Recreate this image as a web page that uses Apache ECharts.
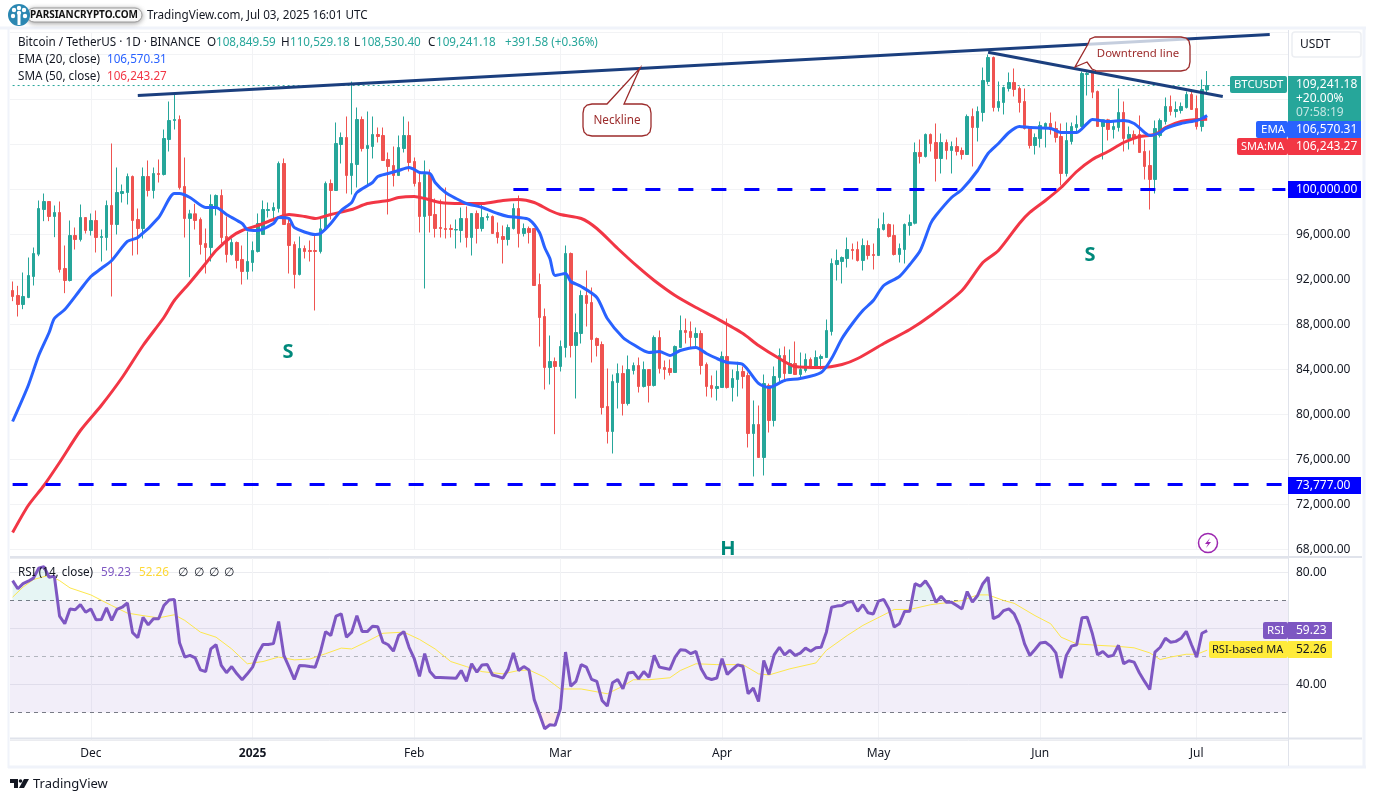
<!DOCTYPE html>
<html>
<head>
<meta charset="utf-8">
<title>BTCUSDT</title>
<script src="https://cdn.jsdelivr.net/npm/echarts@6/dist/echarts.min.js"></script>
<style>
  html, body { margin: 0; padding: 0; background: #fff; }
  #chart { width: 1375px; height: 801px; }
</style>
</head>
<body>
<div id="chart"></div>
<script>
// daily candles, index 0 = 2024-11-16
var openValues = [
  91022,90578,89777,90400,92267,94251,98222,98933,97600,97955,
  92978,91911,95911,95556,97511,96355,97244,95733,95733,98578,
  96889,99644,99733,101155,97333,96533,101155,99911,101422,101333,
  104444,106133,106222,100267,97422,97837,97333,95200,94844,98489,
  99467,95822,94222,95289,93778,92711,93511,94489,96000,98133,
  98133,98311,102311,96978,95111,92444,94756,94578,94578,94489,
  96444,100533,99911,104000,104622,101245,102222,106222,103644,103822,
  104889,104800,102667,102133,101244,103644,104800,102489,100622,97600,
  101333,97778,96622,96533,96533,96400,96356,97422,95733,97867,
  96533,97511,97600,96178,95822,95555,96533,98311,96089,96533,
  96533,91555,88711,84178,84711,84267,85956,94311,86133,87200,
  90578,89956,86755,86222,80711,78489,82844,83644,80978,83911,
  84355,82489,84000,82578,86844,84178,84089,83733,85956,87467,
  87378,86844,87200,84444,82578,82311,82400,85156,82400,83111,
  83822,83467,78311,79111,76178,82578,79467,83289,85244,83644,
  84533,83555,83911,84889,84267,84978,85067,87378,93333,93600,
  93867,94667,94667,93689,95022,94222,94133,96444,96889,95911,
  94222,94667,96800,97000,103289,102933,104889,104178,102755,104178,
  103467,103822,103467,103111,106489,105511,106844,109600,111733,107289,
  107733,108978,109511,108978,107822,105600,103911,104533,105570,105867,
  105422,104711,101422,104267,105511,105600,110222,110578,108711,105600,
  106193,105333,105511,106844,104533,104889,104889,103378,102133,100889,
  104800,106045,107378,106933,107022,107289,108445,107200,105600,108849.59
];
var closeValues = [
  90488,89777,90489,92355,94311,98311,98933,97600,97955,92889,
  91911,95911,95556,97511,96355,97244,95733,95822,98578,96889,
  99733,99822,101155,97244,96533,101155,99911,101422,101333,104533,
  106133,106222,100178,97422,97837,97244,95111,94844,98667,99467,
  95733,94222,95289,93689,92711,93600,94578,96978,98222,98222,
  98400,102311,96889,95022,92444,94756,94489,94489,94489,96504,
  100533,99911,104089,104622,101245,102311,106222,103644,103911,104889,
  104711,102578,102044,101244,103733,104800,102400,100533,97600,101333,
  97689,96533,96533,96444,96444,96444,97422,95733,97867,96533,
  97511,97600,96089,95733,95555,96622,98311,96089,96533,96178,
  91466,88622,84178,84711,84267,86044,94311,86133,87289,90578,
  89867,86667,86133,80622,78489,82933,83644,80978,84000,84355,
  82489,84000,82578,86844,84089,84000,83733,86044,87467,87289,
  86844,87200,84355,82489,82311,82489,85156,82400,83200,83822,
  83378,78311,79111,76178,82755,79467,83378,85244,83644,84533,
  83555,84000,84889,84178,85067,85155,87467,93422,93689,93955,
  94667,94578,93689,95022,94133,94133,96533,96889,95822,94222,
  94755,96889,97067,103289,102933,104889,104089,102755,104178,103467,
  103822,103378,103111,106489,105511,106933,109689,111733,107289,107822,
  109067,109511,108889,107733,105422,103911,104622,105689,105867,105333,
  104622,101422,104355,105600,105778,110311,110311,108652,105600,106193,
  105333,105600,106844,104533,104889,104533,103289,102045,100889,105422,
  106133,107378,106933,107111,107378,108445,107111,105600,108889,109241.18
];
var lowValues = [
  90074,88711,89363,90340,91466,94074,97185,97185,95763,92622,
  90785,91822,94666,95378,96089,95911,94400,93600,94578,90489,
  96000,98844,98666,94133,94222,95644,99378,99200,100622,101244,
  103378,105333,100000,95733,92207,96444,94222,92533,93600,97689,
  95200,93511,94133,92978,91555,92000,92711,94400,96000,97511,
  97333,97956,96889,92533,91200,92356,93867,93600,89245,94311,
  96356,97333,99911,102311,99645,99556,100178,103378,100267,102755,
  104178,102578,97778,100267,101244,103289,101600,100267,96178,91200,
  96178,95733,95733,95644,95733,94756,95289,94844,94133,95200,
  96267,97245,96089,95200,93422,95022,96444,94844,95822,95200,
  91466,86044,82222,82667,78252,83822,85067,85067,81422,86311,
  87822,84622,85156,80000,77422,76533,80533,79911,80800,83556,
  81955,82400,81067,82489,83644,83111,83467,83733,85956,86311,
  85956,85956,83556,81600,81511,81244,82400,82311,81155,81600,
  82311,77067,74489,76178,74578,78400,78933,82844,83022,83644,
  83555,83111,83733,84089,84267,84000,85067,87022,91911,91644,
  93067,93778,93600,92800,93778,92889,94133,96355,95733,94133,
  93511,93422,95911,96900,102311,102844,103378,100711,101422,102667,
  101422,103022,102667,103111,102044,104267,106044,109333,106933,106933,
  106667,108711,108267,106844,105333,103644,103111,103733,103733,104889,
  104178,100355,101155,104000,105067,105511,108355,108118,105600,102667,
  104356,104533,105155,103378,103556,104000,103289,100889,98222,99645,
  104622,105778,106578,106400,106755,107200,107111,105333,105155,108530.40
];
var highValues = [
  91822,91437,92622,93955,94844,99022,99644,98933,98578,98933,
  95022,97244,96622,98666,97511,97867,98133,96444,99022,104089,
  101956,100444,101422,101244,98311,101956,102578,101956,102667,105333,
  107822,108504,106578,102844,98193,98726,97511,96533,99556,99556,
  100000,97600,95644,95378,95022,96267,95378,97867,99022,98844,
  98844,102489,102756,97511,95378,95822,95022,95467,96059,97393,
  100711,100889,105956,105067,106489,109590,107289,106489,106933,106489,
  105511,105511,103289,103822,104800,106489,106044,102844,101600,102578,
  101778,99200,99111,100178,96889,97333,98400,98489,97867,98133,
  98844,97867,97689,97067,96800,96889,98755,99467,96978,96711,
  96533,92533,89422,87022,85067,86578,95022,94400,88978,91022,
  92800,91289,86844,86489,84089,83555,84533,84356,85244,84622,
  85067,84711,84000,87022,87467,84800,84889,86133,88800,88533,
  88267,87733,87467,84622,83467,83911,85600,88533,84000,84682,
  84267,83733,81245,80800,83555,82755,84267,85867,86044,85778,
  86489,85511,85422,85067,85689,85333,88444,93867,94667,94044,
  95733,95200,95378,95644,95467,95200,97422,97956,96978,96889,
  95200,96978,97778,104178,104444,104978,104978,105867,104978,104444,
  104267,104622,103733,106667,107200,107378,110844,112000,111822,109600,
  109155,110400,110755,109155,108978,105600,104978,106044,105955,106844,
  106044,105867,105955,105955,106578,110489,110430,110578,108800,106193,
  106281,106045,108978,107822,105600,105245,106578,104444,103467,106133,
  106311,108178,108356,107822,107733,108711,108889,108356,109778,110529.18
];

// ema / sma read at knots: day index and price
var emaDays = [0,3,5,7,8,10,13,15,17,19,22,24,28,31,32,34,37,39,41,44,45,47,50,51,53,54,58,59,61,63,65,66,69,70,72,74,76,77,78,80,81,83,85,87,90,93,95,97,99,101,102,103,104,106,107,109,112,114,117,119,122,124,126,128,131,133,135,137,140,143,145,148,151,155,157,159,161,163,165,167,170,172,174,176,177,180,182,185,187,189,191,193,195,199,201,204,206,207,210,213,215,217,218,220,221,224,227,228,229];
var emaValues = [79378,82578,85244,87289,88533,89333,91111,92267,92978,93689,95378,95733,97511,99644,99644,99289,98400,98400,97778,96978,96444,96356,96978,97511,97422,96622,96000,96089,96978,98133,98844,99733,100622,101156,101422,101689,101956,101778,101511,101422,100622,99733,99200,98756,98400,97867,97600,97511,97333,96178,94844,93867,92356,92533,91822,91378,90400,88533,86844,86222,85511,85600,85244,85689,85956,85422,84978,84622,84444,82756,82400,83022,83200,83733,84978,86756,88089,89244,90133,91467,92267,93333,94578,96978,97689,99289,100000,101689,103200,104089,105067,105600,105511,105422,105067,105067,105867,106222,106044,106133,105867,105067,104800,105067,105422,105867,106133,106311,106570.31];
var smaDays = [0,3,6,9,13,17,21,25,29,31,34,37,39,42,44,47,50,53,56,58,61,65,68,72,74,77,79,82,86,90,94,97,100,103,105,109,112,116,120,123,127,131,135,140,143,147,150,155,159,162,167,172,176,182,186,189,193,195,198,201,204,207,210,213,216,219,221,224,227,229];
var smaValues = [69511,71911,73689,75733,78578,80800,83289,86133,88622,90133,91733,93422,94578,95822,96356,96800,97333,97778,97600,97422,97778,98222,98756,99022,99289,99378,99200,98844,98756,98756,99022,99111,98844,98133,97778,97422,96533,94756,93067,91911,90578,89511,88533,87200,86133,84978,84267,84178,84444,84978,86311,87556,88800,91022,93511,94578,96978,97956,99022,100178,101600,102667,103378,104178,104711,104889,105511,106044,106222,106243.27];

var rsiValues = [
  77.1,74.2,76.0,76.9,78.0,81.5,82.1,78.3,78.7,64.4,61.7,67.0,66.7,68.5,65.8,67.0,63.1,63.2,67.4,62.9,
  66.8,67.6,69.1,58.5,56.7,64.0,61.3,63.5,63.5,68.2,70.2,70.4,54.9,49.8,50.4,49.5,45.2,44.6,52.7,54.2,
  46.8,44.2,46.4,43.8,41.7,43.8,46.2,51.0,54.3,54.3,54.6,62.5,50.4,46.2,41.8,46.8,46.7,46.4,46.2,51.6,
  58.9,57.5,64.4,65.2,56.9,58.7,64.6,58.9,58.9,60.8,60.6,55.1,54.2,51.9,57.5,58.9,53.3,49.2,42.9,51.0,
  44.6,42.5,42.5,42.4,42.3,42.2,45.0,41.1,47.4,44.4,47.0,47.1,43.4,42.9,42.3,45.4,51.3,45.0,46.4,45.2,
  34.6,29.5,24.2,25.6,25.4,31.3,51.6,39.4,41.1,47.1,46.2,41.8,41.1,34.3,32.3,40.6,41.8,38.5,44.1,44.4,
  42.0,44.6,42.6,50.4,46.2,45.8,45.4,49.8,52.4,52.2,51.0,51.8,45.6,42.4,41.8,42.3,49.2,43.6,45.4,47.0,
  46.5,36.7,38.7,33.9,48.6,43.6,50.6,53.3,50.6,52.2,50.4,51.2,53.0,51.9,53.1,53.3,58.7,67.6,68.0,68.2,
  69.4,69.6,66.1,68.5,65.6,65.2,69.8,70.4,67.0,60.5,61.7,66.1,66.2,76.0,75.1,77.0,74.2,69.4,71.5,69.4,
  69.4,68.2,67.0,73.2,69.4,71.8,76.0,78.3,63.5,64.4,66.4,67.0,65.2,61.1,54.5,50.4,52.5,54.8,55.1,53.7,
  51.3,42.3,50.4,53.7,54.2,63.8,64.0,58.1,50.6,51.8,50.0,50.4,54.0,47.4,48.5,48.0,44.2,41.1,38.2,51.6,
  53.3,56.5,55.1,55.4,56.5,59.0,54.2,49.8,58.3,59.23
];
var rsiMaDays = [0,2,4,7,9,11,15,19,22,25,28,31,33,36,39,42,45,48,51,54,57,60,63,65,68,71,75,78,81,84,87,90,94,97,99,102,105,109,114,117,119,122,126,128,131,135,140,143,145,149,154,156,160,163,168,169,172,176,179,182,185,187,190,192,196,199,201,204,208,212,215,218,220,222,225,227,229];
var rsiMaValues = [71.2,74.8,77.5,79.0,77.1,74.5,72.0,68.2,65.5,64.6,63.8,64.9,62.9,58.7,56.9,52.7,47.4,48.2,49.8,48.8,49.1,51.0,53.0,52.7,55.4,58.3,58.7,56.1,52.7,48.2,46.4,44.6,43.8,45.0,45.2,42.6,38.4,38.4,36.7,39.4,41.7,41.7,42.4,45.0,47.4,47.1,47.1,43.8,43.4,45.6,47.7,52.2,57.5,61.1,65.8,66.8,66.8,68.5,69.2,70.0,72.0,72.0,70.0,69.0,64.6,61.7,56.9,54.5,54.0,53.6,53.1,51.3,48.9,49.8,50.8,50.8,52.26];

// drawn trend lines, [day, price] ends
var necklineDays = [24, 241];
var necklinePrices = [108356, 113778];
var downtrendDays = [187, 232];
var downtrendPrices = [112204, 108267];

var supportPrices = [100000, 73777];
var lastPrice = 109241.18;

var monthStartDays = [15, 46, 77, 105, 136, 166, 197, 227];
var monthLabels = ['Dec', '2025', 'Feb', 'Mar', 'Apr', 'May', 'Jun', 'Jul'];

var dayCount = 245;
var categories = [];
for (var d = 0; d < dayCount; d++) {
  categories.push(new Date(Date.UTC(2024, 10, 16 + d)).toISOString().slice(0, 10));
}

var FONT = '"Noto Sans", sans-serif';
var UP = '#26a69a', DOWN = '#ef5350', GRID = '#f2f3f5', BORDER = '#e0e3eb', INK = '#131722';
var BLUE = '#2962ff', RED = '#f23645', PURPLE = '#7e57c2', YELLOW = '#ffeb3b', NAVY = '#1b3f7e', MAROON = '#9c2b2b';

function isMonthStart(i) { return monthStartDays.indexOf(i) >= 0; }
function money(v) { return v.toFixed(2).replace(/\B(?=(\d{3})+\.)/g, ','); }
function zip(a, b) { return a.map(function (v, i) { return [v, b[i]]; }); }

var g = [];
function txt(x, y, text, fill, size, extra) {
  var st = { x: 0, y: 0, text: text, fill: fill, font: (size || 12) + 'px ' + FONT,
    align: 'left', verticalAlign: 'middle', textAlign: 'left', textVerticalAlign: 'middle' };
  for (var k in (extra || {})) st[k] = extra[k];
  // noto sits a little high, nudge it down
  g.push({ type: 'text', x: x, y: y + 1, z: 60, silent: true, style: st });
}
function box(x0, y0, x1, y1, fill, r) {
  g.push({ type: 'rect', z: 55, silent: true, shape: { x: x0, y: y0, width: x1 - x0, height: y1 - y0, r: r || 0 }, style: { fill: fill } });
}
function rule(x0, y0, x1, y1, color, w) {
  g.push({ type: 'line', z: 40, silent: true, shape: { x1: x0, y1: y0, x2: x1, y2: y1 }, style: { stroke: color, lineWidth: w || 1 } });
}
function ctext(x, y, text, fill, size, extra) {
  var e = { align: 'center', textAlign: 'center' };
  for (var k in (extra || {})) e[k] = extra[k];
  txt(x, y, text, fill, size, e);
}

// frame
rule(0, 28, 1366, 28, '#f0f3fa', 3);
rule(8.5, 28, 8.5, 768, '#f0f3fa', 2);
rule(1364, 28, 1364, 768, '#f0f3fa', 3);
rule(8, 767, 1366, 767, '#f0f3fa', 3);
rule(1288.5, 30, 1288.5, 766, BORDER, 1);
rule(10, 557, 1362, 557, BORDER, 2);
rule(10, 738.5, 1362, 738.5, BORDER, 2);

// logo and title
g.push({ type: 'rect', z: 50, silent: true, shape: { x: 27, y: 8, width: 115, height: 14, r: 7 },
  style: { fill: '#fff', stroke: '#9a9a9a', lineWidth: 1, shadowBlur: 5, shadowColor: 'rgba(0,0,0,.35)', shadowOffsetY: 1 } });
g.push({ type: 'circle', z: 56, silent: true, shape: { cx: 19, cy: 15, r: 11 }, style: { fill: '#2a87b2' } });
g.push({ type: 'rect', z: 57, silent: true, shape: { x: 17.5, y: 15, width: 3, height: 10 }, style: { fill: '#fff' } });
[[14, 10], [19, 8], [24, 10], [13, 16], [25, 16], [19, 13]].forEach(function (p) {
  g.push({ type: 'circle', z: 57, silent: true, shape: { cx: p[0], cy: p[1], r: 2.2 }, style: { fill: '#fff' } });
});
txt(30, 14.5, 'PARSIANCRYPTO.COM', '#111', 10, { font: 'bold 10px ' + FONT });
txt(147, 14.5, 'TradingView.com, Jul 03, 2025 16:01 UTC', INK, 11.7);

// legend rows
txt(18, 41.5, 'Bitcoin / TetherUS · 1D · BINANCE', INK, 11.7);
txt(207, 41.5, 'O', INK, 11.7);
txt(216, 41.5, '108,849.59', UP, 11.7);
txt(281, 41.5, 'H', INK, 11.7);
txt(290, 41.5, '110,529.18', UP, 11.7);
txt(354, 41.5, 'L', INK, 11.7);
txt(361, 41.5, '108,530.40', UP, 11.7);
txt(428, 41.5, 'C', INK, 11.7);
txt(436, 41.5, '109,241.18', UP, 11.7);
txt(505, 41.5, '+391.58 (+0.36%)', UP, 11.7);
txt(18, 58.5, 'EMA (20, close)', INK, 11.7);
txt(107, 58.5, '106,570.31', BLUE, 11.7);
txt(18, 75.5, 'SMA (50, close)', INK, 11.7);
txt(107, 75.5, '106,243.27', RED, 11.7);
txt(18, 571.5, 'RSI (14, close)', INK, 11.7);
txt(101, 571.5, '59.23', PURPLE, 11.7);
txt(139, 571.5, '52.26', '#fdd835', 11.7);
txt(178, 571.5, '∅', INK, 11.7);
txt(194, 571.5, '∅', INK, 11.7);
txt(209, 571.5, '∅', INK, 11.7);
txt(224, 571.5, '∅', INK, 11.7);

// right hand tags
g.push({ type: 'rect', z: 50, silent: true, shape: { x: 1292, y: 32, width: 69, height: 25, r: 3 }, style: { fill: '#fff', stroke: '#eceef2', lineWidth: 1.5 } });
txt(1300, 44, 'USDT', INK, 12);
box(1230, 76, 1287, 93, UP, 2);
txt(1234, 84, 'BTCUSDT', '#fff', 11.3);
box(1288, 76, 1361, 121, UP);
txt(1296, 84, '109,241.18', '#fff', 12);
txt(1296, 97.5, '+20.00%', '#fff', 12);
txt(1296, 111.5, '07:58:19', 'rgba(255,255,255,.72)', 12);
box(1256, 121, 1288, 138, BLUE, 2);
box(1288, 121, 1361, 138, BLUE);
txt(1261, 129, 'EMA', '#fff', 11.5);
txt(1296, 129, '106,570.31', '#fff', 12);
box(1237, 138, 1288, 155, RED, 2);
box(1288, 138, 1361, 155, RED);
txt(1241, 146, 'SMA:MA', '#fff', 11);
txt(1296, 146, '106,243.27', '#fff', 12);
box(1288, 181, 1361, 198, '#0000ff');
txt(1296, 189, '100,000.00', '#fff', 12);
box(1288, 477, 1361, 494, '#0000ff');
txt(1296, 485, '73,777.00', '#fff', 12);
box(1263, 622, 1288, 639, PURPLE, 2);
box(1288, 622, 1332, 639, PURPLE);
txt(1267, 630, 'RSI', '#fff', 11.5);
txt(1296, 630, '59.23', '#fff', 12);
box(1209, 641, 1288, 658, YELLOW, 2);
box(1288, 641, 1332, 658, YELLOW);
txt(1212, 649, 'RSI-based MA', INK, 11);
txt(1296, 649, '52.26', INK, 12);

// head and shoulders letters
ctext(288, 351, 'S', '#00897b', 20, { font: 'bold 20px ' + FONT });
ctext(1090, 254, 'S', '#00897b', 20, { font: 'bold 20px ' + FONT });
ctext(728, 548, 'H', '#00897b', 20, { font: 'bold 20px ' + FONT });

// callouts
g.push({ type: 'polygon', z: 52, silent: true, shape: { points: [[592, 104], [607, 104], [640, 68], [624, 104], [642, 104], [647, 105], [650, 108], [651, 113], [651, 127], [650, 132], [647, 135], [642, 136], [592, 136], [587, 135], [584, 132], [583, 127], [583, 113], [584, 108], [587, 105]] },
  style: { fill: 'rgba(255,255,255,.75)', stroke: MAROON, lineWidth: 1.3 } });
ctext(617, 119.5, 'Neckline', MAROON, 11.7);
g.push({ type: 'polygon', z: 52, silent: true, shape: { points: [[1095, 37], [1181, 37], [1186, 38], [1189, 41], [1190, 46], [1190, 62], [1189, 67], [1186, 70], [1181, 71], [1097, 71], [1092, 69], [1087, 62], [1075, 67], [1088, 44], [1090, 39]] },
  style: { fill: 'rgba(255,255,255,.75)', stroke: MAROON, lineWidth: 1.3 } });
ctext(1138, 52.5, 'Downtrend line', MAROON, 11.4);

// alert icon
g.push({ type: 'circle', z: 55, silent: true, shape: { cx: 1208, cy: 543, r: 9.5 }, style: { fill: '#fff', stroke: '#9c27b0', lineWidth: 1.5 } });
g.push({ type: 'polygon', z: 56, silent: true, shape: { points: [[1210, 538], [1205, 544], [1208, 544], [1206, 548], [1211, 542], [1208, 542]] }, style: { fill: '#9c27b0' } });

// footer logo
g.push({ type: 'polygon', z: 55, silent: true, shape: { points: [[10, 779], [18, 779], [18, 788], [14, 788], [14, 783], [10, 783]] }, style: { fill: INK } });
g.push({ type: 'circle', z: 55, silent: true, shape: { cx: 20.5, cy: 781, r: 1.8 }, style: { fill: INK } });
g.push({ type: 'polygon', z: 55, silent: true, shape: { points: [[24, 779], [29, 779], [24, 788], [19, 788]] }, style: { fill: INK } });
txt(33, 783, 'TradingView', INK, 13);

var chart = echarts.init(document.getElementById('chart'));

function xAxisBase(extra) {
  var o = {
    type: 'category', data: categories, boundaryGap: true,
    axisLine: { show: false }, axisTick: { show: false },
    axisLabel: { show: false },
    splitLine: { show: true, alignWithLabel: true, interval: function (i) { return isMonthStart(i); }, lineStyle: { color: GRID, width: 1 } },
    axisPointer: { show: false }
  };
  for (var k in extra) o[k] = extra[k];
  return o;
}

chart.setOption({
  animation: false,
  backgroundColor: '#fff',
  textStyle: { fontFamily: FONT },
  grid: [
    { left: 10, right: 87, top: 32, height: 517.5 },
    { left: 10, right: 87, top: 558.5, height: 182 }
  ],
  xAxis: [
    xAxisBase({ gridIndex: 0 }),
    xAxisBase({
      gridIndex: 1,
      axisLabel: {
        show: true, margin: 7, color: INK, fontSize: 12, fontFamily: FONT,
        interval: function (i) { return isMonthStart(i); },
        formatter: function (val, i) {
          var label = monthLabels[monthStartDays.indexOf(i)];
          return label === '2025' ? '{b|2025}' : label;
        },
        rich: { b: { fontWeight: 'bold', fontSize: 12, fontFamily: FONT, color: INK } }
      }
    })
  ],
  yAxis: [
    {
      gridIndex: 0, type: 'value', position: 'right', scale: true,
      min: 68000, max: 114000, interval: 4000,
      axisLine: { show: false }, axisTick: { show: false },
      splitLine: { lineStyle: { color: GRID } },
      axisLabel: {
        margin: 8, color: INK, fontSize: 12, fontFamily: FONT, padding: [1, 0, 0, 0],
        formatter: function (val) { return val >= 100000 ? '' : money(val); }
      }
    },
    {
      gridIndex: 1, type: 'value', position: 'right',
      min: 20, max: 85, interval: 20,
      axisLine: { show: false }, axisTick: { show: false },
      splitLine: { lineStyle: { color: '#ebecf0' } },
      axisLabel: {
        margin: 8, color: INK, fontSize: 12, fontFamily: FONT, padding: [1, 0, 0, 0],
        formatter: function (val) { return val === 80 || val === 40 ? val.toFixed(2) : ''; }
      }
    }
  ],
  graphic: { elements: g },
  series: [
    {
      name: 'Last price', type: 'line', xAxisIndex: 0, yAxisIndex: 0, z: 2, showSymbol: false,
      data: [[0, lastPrice], [dayCount - 1, lastPrice]],
      lineStyle: { color: UP, width: 1, type: [2, 3] }
    },
    {
      name: 'BTCUSDT', type: 'candlestick', xAxisIndex: 0, yAxisIndex: 0, barWidth: 3, z: 3,
      data: openValues.map(function (o, i) { return [o, closeValues[i], lowValues[i], highValues[i]]; }),
      itemStyle: { color: UP, color0: DOWN, borderColor: UP, borderColor0: DOWN, borderWidth: 1 }
    },
    {
      name: 'SMA', type: 'line', xAxisIndex: 0, yAxisIndex: 0, z: 4, showSymbol: false, smooth: 0.25,
      data: zip(smaDays, smaValues), lineStyle: { color: RED, width: 3 }
    },
    {
      name: 'EMA', type: 'line', xAxisIndex: 0, yAxisIndex: 0, z: 5, showSymbol: false, smooth: 0.25,
      data: zip(emaDays, emaValues), lineStyle: { color: BLUE, width: 3 }
    },
    {
      name: 'Neckline', type: 'line', xAxisIndex: 0, yAxisIndex: 0, z: 6, showSymbol: false,
      data: zip(necklineDays, necklinePrices), lineStyle: { color: NAVY, width: 3 }
    },
    {
      name: 'Downtrend', type: 'line', xAxisIndex: 0, yAxisIndex: 0, z: 6, showSymbol: false,
      data: zip(downtrendDays, downtrendPrices), lineStyle: { color: NAVY, width: 3 }
    },
    {
      name: 'Support 100k', type: 'line', xAxisIndex: 0, yAxisIndex: 0, z: 6, showSymbol: false,
      data: [[96, supportPrices[0]], [dayCount - 1, supportPrices[0]]],
      lineStyle: { color: '#0000ff', width: 3, type: [15, 18] }
    },
    {
      name: 'Support 73k', type: 'line', xAxisIndex: 0, yAxisIndex: 0, z: 6, showSymbol: false,
      data: [[0, supportPrices[1]], [dayCount - 1, supportPrices[1]]],
      lineStyle: { color: '#0000ff', width: 3, type: [15, 18] }
    },
    {
      name: 'Overbought', type: 'line', xAxisIndex: 1, yAxisIndex: 1, z: 2, showSymbol: false,
      data: rsiValues.map(function (r) { return Math.max(r, 70); }),
      lineStyle: { width: 0 }, areaStyle: { origin: 70, color: 'rgba(38,166,154,.16)' }
    },
    {
      name: 'Oversold', type: 'line', xAxisIndex: 1, yAxisIndex: 1, z: 2, showSymbol: false,
      data: rsiValues.map(function (r) { return Math.min(r, 30); }),
      lineStyle: { width: 0 }, areaStyle: { origin: 30, color: 'rgba(239,83,80,.16)' }
    },
    {
      name: 'RSI-based MA', type: 'line', xAxisIndex: 1, yAxisIndex: 1, z: 3, showSymbol: false,
      data: zip(rsiMaDays, rsiMaValues), lineStyle: { color: '#fde74c', width: 1 }
    },
    {
      name: 'RSI', type: 'line', xAxisIndex: 1, yAxisIndex: 1, z: 4, showSymbol: false,
      data: rsiValues, lineStyle: { color: PURPLE, width: 3 },
      markArea: {
        silent: true, z: 1,
        itemStyle: { color: 'rgba(126,87,194,.1)' },
        data: [[{ yAxis: 70 }, { yAxis: 30 }]]
      },
      markLine: {
        silent: true, symbol: 'none', label: { show: false }, z: 1,
        data: [
          { yAxis: 70, lineStyle: { color: '#787b86', type: [4, 4], width: 1 } },
          { yAxis: 50, lineStyle: { color: '#b2b5be', type: [4, 4], width: 1 } },
          { yAxis: 30, lineStyle: { color: '#787b86', type: [4, 4], width: 1 } }
        ]
      }
    }
  ]
});
</script>
</body>
</html>
